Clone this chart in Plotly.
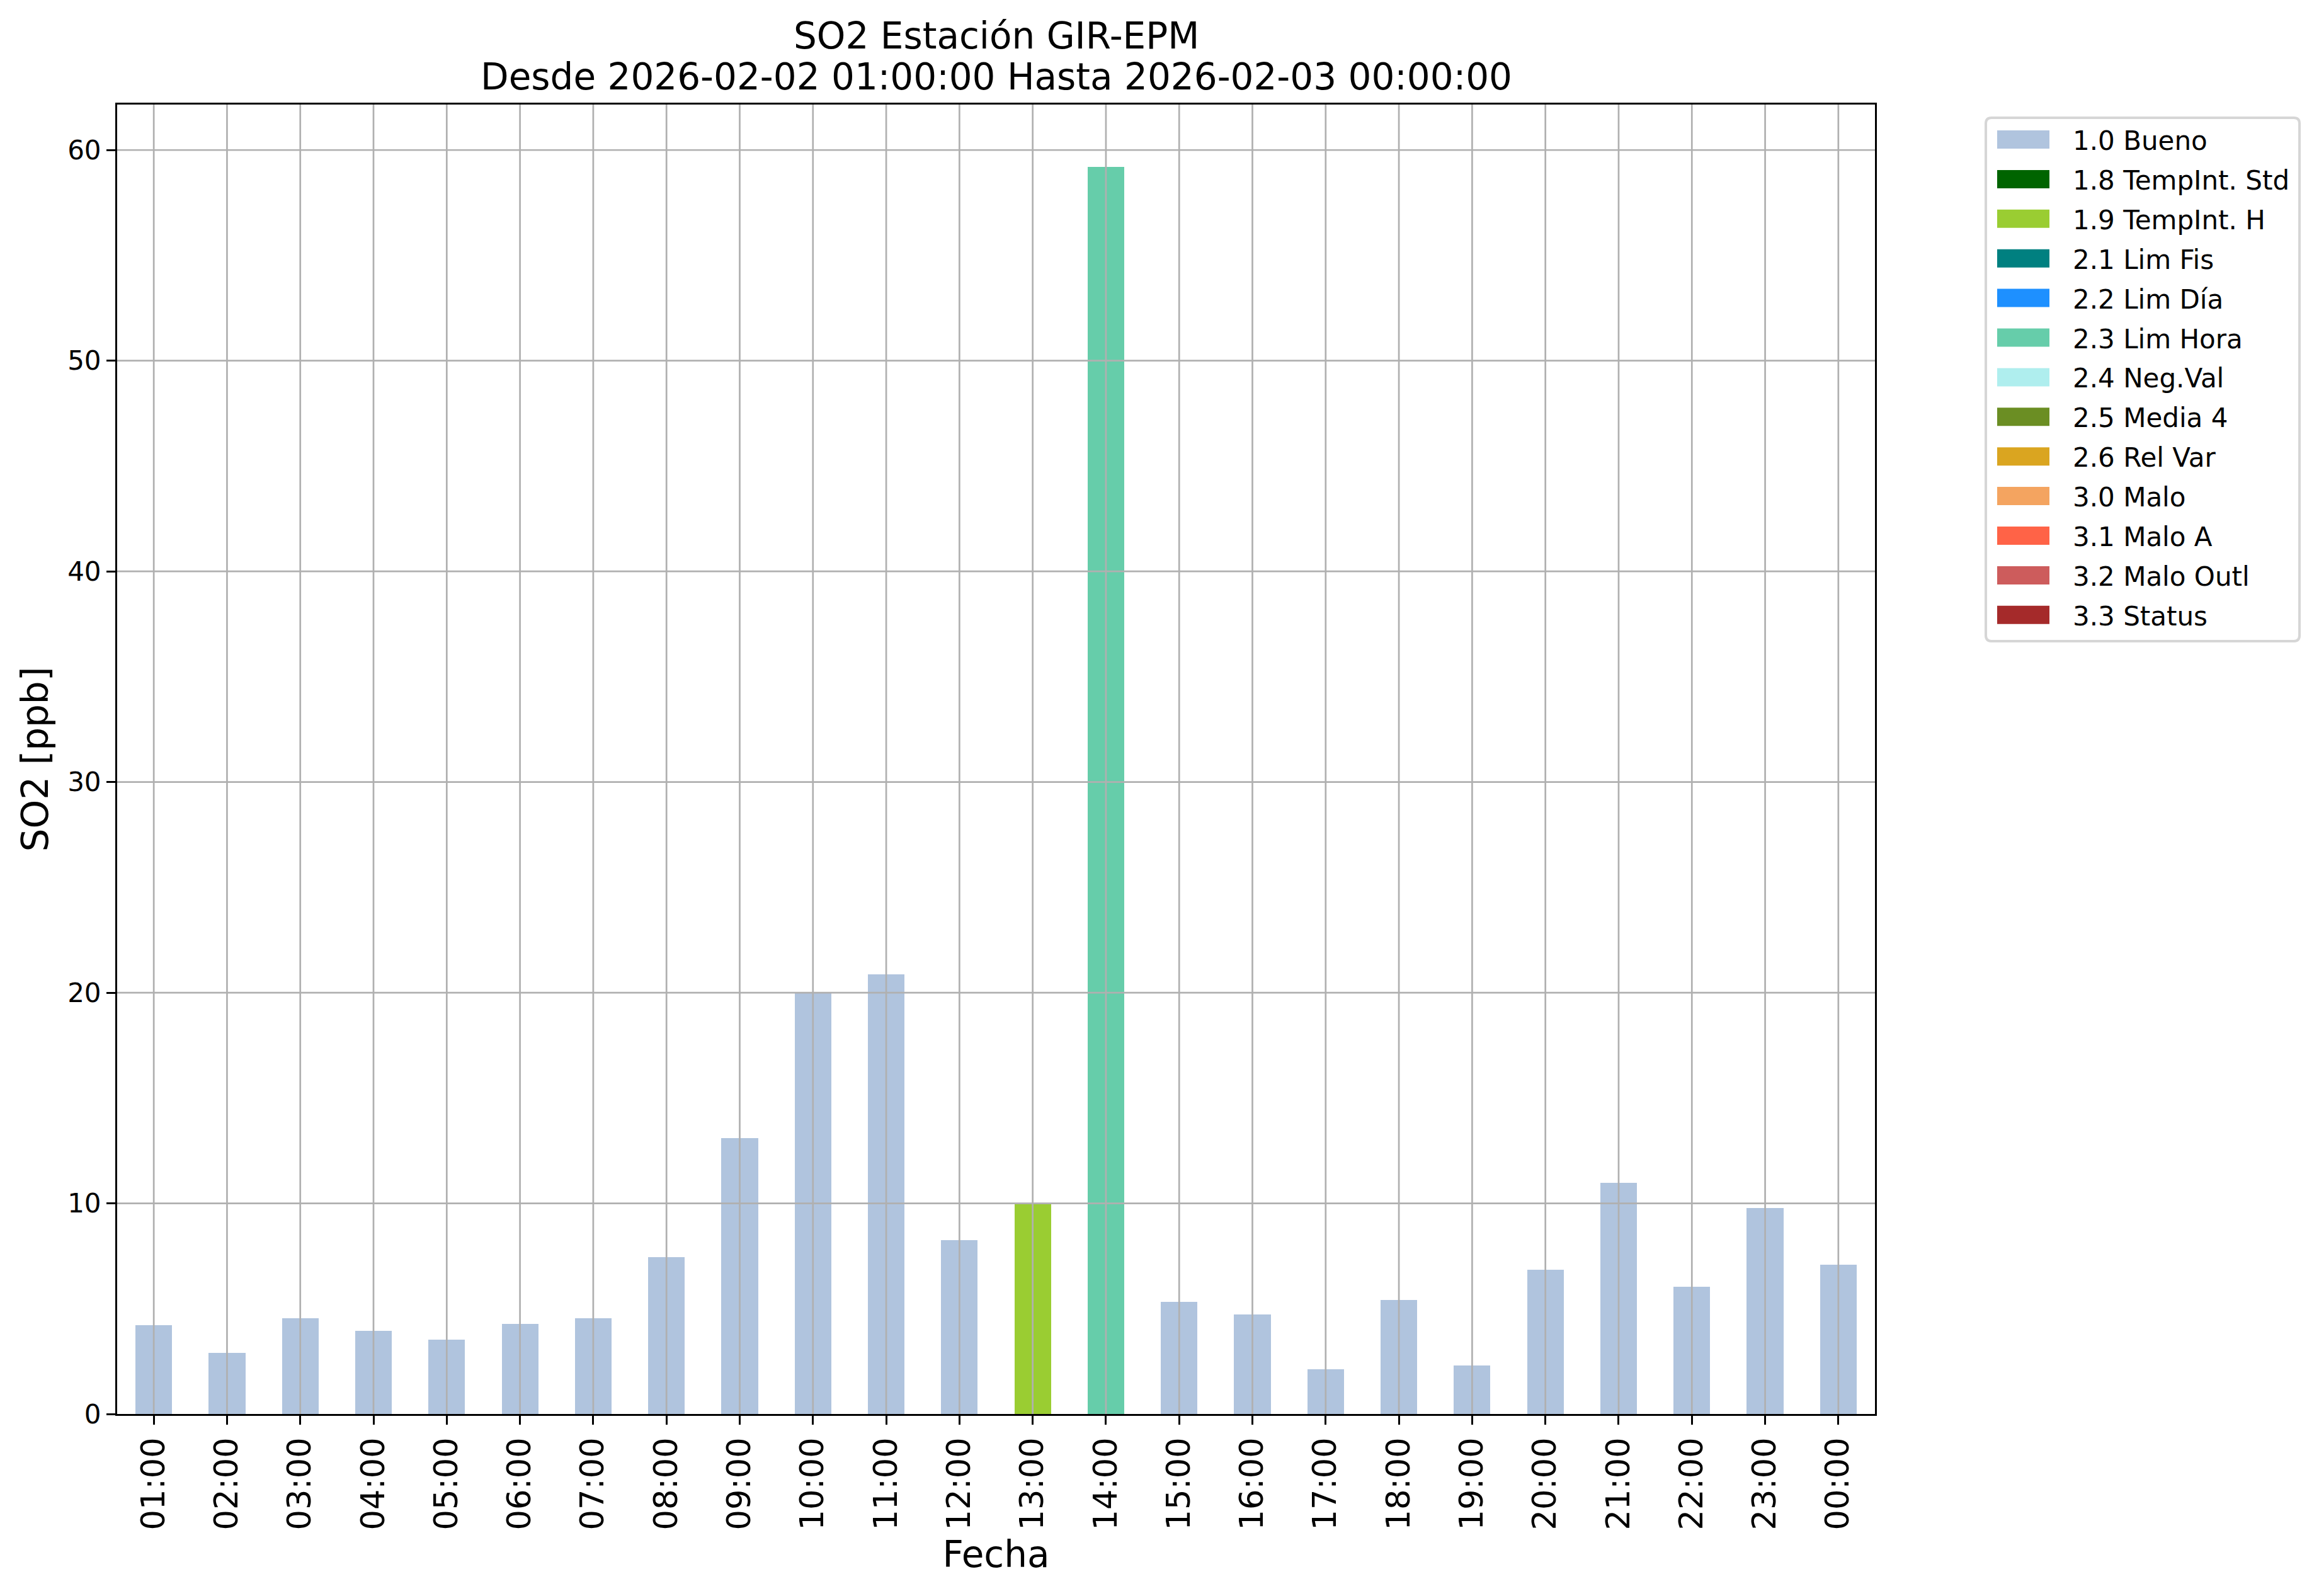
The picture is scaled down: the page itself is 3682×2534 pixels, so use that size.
import plotly.graph_objects as go

# ---- data ----
hours = ["01:00", "02:00", "03:00", "04:00", "05:00", "06:00", "07:00", "08:00",
         "09:00", "10:00", "11:00", "12:00", "13:00", "14:00", "15:00", "16:00",
         "17:00", "18:00", "19:00", "20:00", "21:00", "22:00", "23:00", "00:00"]
so2_values = [4.22, 2.90, 4.55, 3.96, 3.53, 4.28, 4.55, 7.45, 13.09, 20.0, 20.87, 8.24,
              10.0, 59.2, 5.31, 4.71, 2.13, 5.40, 2.31, 6.84, 10.98, 6.05, 9.77, 7.10]
flags = ["1.0 Bueno"] * 12 + ["1.9 TempInt. H", "2.3 Lim Hora"] + ["1.0 Bueno"] * 10

legend_labels = ["1.0 Bueno", "1.8 TempInt. Std", "1.9 TempInt. H", "2.1 Lim Fis",
                 "2.2 Lim Día", "2.3 Lim Hora", "2.4 Neg.Val", "2.5 Media 4",
                 "2.6 Rel Var", "3.0 Malo", "3.1 Malo A", "3.2 Malo Outl", "3.3 Status"]
legend_colors = ["#B0C4DE", "#006400", "#9ACD32", "#008080", "#1E90FF", "#66CDAA",
                 "#AFEEEE", "#6B8E23", "#DAA520", "#F4A460", "#FF6347", "#CD5C5C",
                 "#A52A2A"]
y_ticks = [0, 10, 20, 30, 40, 50, 60]

title_lines = ["SO2 Estación GIR-EPM",
               "Desde 2026-02-02 01:00:00 Hasta 2026-02-03 00:00:00"]

# ---- geometry (page pixels; the page body adds an 8px offset) ----
OFF = 8
W, H = 3682 - 2 * OFF, 2534 - 2 * OFF
L, R, T, B = 186 - OFF, 2977 - OFF, 166 - OFF, 2245 - OFF
FONT = "DejaVu Sans"
GRID = "#b0b0b0"

color_map = dict(zip(legend_labels, legend_colors))
bar_colors = [color_map[f] for f in flags]

fig = go.Figure()
fig.add_trace(go.Bar(x=hours, y=so2_values, width=0.5,
                     marker=dict(color=bar_colors, line=dict(width=0)),
                     showlegend=False))

ymax = max(so2_values) * 1.05


def px_x(p):
    return (p - OFF - L) / (R - L)


def px_y(p):
    return (B - (p - OFF)) / (B - T)


shapes = []
# gridlines above bars (as matplotlib draws them)
for h in hours:
    shapes.append(dict(type="line", xref="x", yref="paper", x0=h, x1=h, y0=0, y1=1,
                       line=dict(color=GRID, width=2.7), layer="above"))
for t in y_ticks[1:]:
    shapes.append(dict(type="line", xref="paper", yref="y", x0=0, x1=1, y0=t, y1=t,
                       line=dict(color=GRID, width=2.7), layer="above"))

# custom legend box
bx0, bx1, by0, by1 = px_x(3153), px_x(3651), px_y(187), px_y(1018)
rx = 9 / (R - L)
ry = 9 / (B - T)
path = (f"M {bx0+rx},{by0} L {bx1-rx},{by0} Q {bx1},{by0} {bx1},{by0-ry} "
        f"L {bx1},{by1+ry} Q {bx1},{by1} {bx1-rx},{by1} "
        f"L {bx0+rx},{by1} Q {bx0},{by1} {bx0},{by1+ry} "
        f"L {bx0},{by0-ry} Q {bx0},{by0} {bx0+rx},{by0} Z")
shapes.append(dict(type="path", xref="paper", yref="paper", path=path,
                   line=dict(color="#d6d6d6", width=4), fillcolor="rgba(255,255,255,0.8)",
                   layer="above"))

annotations = []
row0, dy = 221.5, 62.9
for i, (lab, col) in enumerate(zip(legend_labels, legend_colors)):
    cy = row0 + i * dy
    shapes.append(dict(type="rect", xref="paper", yref="paper",
                       x0=px_x(3171), x1=px_x(3254), y0=px_y(cy - 14.5), y1=px_y(cy + 14.5),
                       fillcolor=col, line=dict(width=0), layer="above"))
    annotations.append(dict(xref="paper", yref="paper", x=px_x(3289), y=px_y(cy + 2),
                            text=lab, showarrow=False, xanchor="left", yanchor="middle",
                            font=dict(family=FONT, size=42, color="black")))

# title as two centred lines over the axes
for line_text, cap_center in zip(title_lines, [53.5, 118.5]):
    annotations.append(dict(xref="paper", yref="paper", x=0.5, y=px_y(cap_center + 3),
                            text=line_text, showarrow=False, xanchor="center",
                            yanchor="middle",
                            font=dict(family=FONT, size=58, color="black")))

fig.update_layout(
    width=W, height=H,
    margin=dict(l=L, r=W - R, t=T, b=H - B, autoexpand=False),
    paper_bgcolor="white", plot_bgcolor="white",
    font=dict(family=FONT, color="black"),
    shapes=shapes,
    annotations=annotations,
    bargap=0,
    xaxis=dict(type="category", categoryorder="array", categoryarray=hours,
               range=[-0.5, len(hours) - 0.5], showgrid=False,
               showline=True, linecolor="black", linewidth=3, mirror=True,
               ticks="outside", ticklen=14, tickwidth=3, tickcolor="black",
               tickangle=-90, tickfont=dict(family=FONT, size=51, color="black"),
               title=dict(text="Fecha", font=dict(family=FONT, size=58, color="black"),
                          standoff=20),
               automargin=False, zeroline=False),
    yaxis=dict(range=[0, ymax], tickvals=y_ticks, showgrid=False, zeroline=False,
               showline=True, linecolor="black", linewidth=3, mirror=True,
               ticks="outside", ticklen=14, tickwidth=3, tickcolor="black",
               tickfont=dict(family=FONT, size=42, color="black"),
               title=dict(text="SO2 [ppb]", font=dict(family=FONT, size=58, color="black"),
                          standoff=12),
               automargin=False),
)

fig.write_html("out.html")
